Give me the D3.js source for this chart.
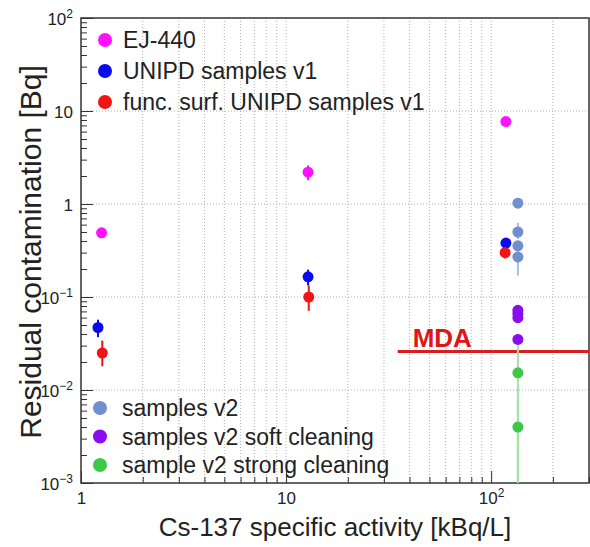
<!DOCTYPE html>
<html>
<head>
<meta charset="utf-8">
<script src="https://cdn.jsdelivr.net/npm/d3@7"></script>
<style>
  body { margin: 0; background: #fff; }
  svg { font-family: "Liberation Sans", Arial, Helvetica, sans-serif; }
</style>
</head>
<body>
<svg id="chart"></svg>
<script>
// ---- data ----
var ejX = [1.26, 12.8, 118];
var ejY = [0.49, 2.2, 7.7];
var ejLo = [0.45, 1.8, 7.2];
var ejHi = [0.53, 2.6, 8.2];

var unipdX = [1.21, 12.8, 118];
var unipdY = [0.047, 0.165, 0.38];
var unipdLo = [0.037, 0.133, 0.34];
var unipdHi = [0.057, 0.197, 0.42];

var funcX = [1.27, 12.9, 117];
var funcY = [0.025, 0.1, 0.3];
var funcLo = [0.018, 0.071, 0.26];
var funcHi = [0.034, 0.133, 0.34];

var v2X = [135, 135, 135, 135];
var v2Y = [1.02, 0.5, 0.355, 0.27];
var v2Lo = [0.95, 0.42, 0.33, 0.17];
var v2Hi = [1.1, 0.63, 0.38, 0.4];

var softX = [135, 135, 135, 135];
var softY = [0.072, 0.066, 0.06, 0.035];
var softLo = [0.066, 0.06, 0.055, 0.031];
var softHi = [0.078, 0.072, 0.066, 0.04];

var strongX = [135, 135];
var strongY = [0.0153, 0.004];
var strongLo = [0.0003, 0.0001];
var strongHi = [0.03, 0.008];

var mdaValue = 0.026;
var mdaStart = 35;

var xMajor = [1, 10, 100];
var yMajor = [100, 10, 1, 0.1, 0.01, 0.001];
var xLabels = ["1", "10", "10^2"];
var yLabels = ["10^2", "10", "1", "10^-1", "10^-2", "10^-3"];

var legendTop = ["EJ-440", "UNIPD samples v1", "func. surf. UNIPD samples v1"];
var legendBottom = ["samples v2", "samples v2 soft cleaning", "sample v2 strong cleaning"];

// ---- setup ----
var settings = { width: 590, height: 547 };
var margin = { left: 81, right: 1, top: 18, bottom: 64 };

var svg = d3.select("#chart")
    .attr("width", settings.width)
    .attr("height", settings.height);

var x = d3.scaleLog().domain([1, 300])
    .range([margin.left, settings.width - margin.right]);
var y = d3.scaleLog().domain([0.001, 100])
    .range([settings.height - margin.bottom, margin.top]);

var x0 = x.range()[0], x1 = x.range()[1];
var y0 = y.range()[0], y1 = y.range()[1];

// minor ticks
var xMinor = [];
[1, 10, 100].forEach(function (d) {
    for (var k = 2; k <= 9; k++) { if (d * k <= 300) xMinor.push(d * k); }
});
var yMinor = [];
[0.001, 0.01, 0.1, 1, 10].forEach(function (d) {
    for (var k = 2; k <= 9; k++) yMinor.push(d * k);
});

svg.append("defs").append("clipPath").attr("id", "plotclip")
    .append("rect").attr("x", x0).attr("y", y1).attr("width", x1 - x0).attr("height", y0 - y1);

// grid
var grid = svg.append("g").attr("class", "grid");
grid.selectAll("line.vg")
    .data(xMajor.concat(xMinor).filter(function (d) { return d > 1 && d < 300; }))
    .enter().append("line")
    .attr("x1", function (d) { return x(d); })
    .attr("x2", function (d) { return x(d); })
    .attr("y1", y1).attr("y2", y0)
    .attr("stroke", "#b0b0b0").attr("stroke-width", 1)
    .attr("stroke-dasharray", "1,2");
grid.selectAll("line.hg")
    .data(yMajor.filter(function (d) { return d > 0.001 && d < 100; }))
    .enter().append("line")
    .attr("x1", x0).attr("x2", x1)
    .attr("y1", function (d) { return y(d); })
    .attr("y2", function (d) { return y(d); })
    .attr("stroke", "#b0b0b0").attr("stroke-width", 1)
    .attr("stroke-dasharray", "1,2");

// axes (ROOT style: ticks inside)
var gx = svg.append("g").attr("transform", "translate(0," + y0 + ")");
gx.call(d3.axisTop(x).tickValues(xMinor).tickSize(6).tickFormat(""));
var gxM = svg.append("g").attr("transform", "translate(0," + y0 + ")");
gxM.call(d3.axisBottom(x).tickValues(xMajor).tickSize(0).tickPadding(9)
    .tickFormat(function (d, i) { return xLabels[i]; }));
gxM.selectAll(".tick").append("line")
    .attr("y2", -12).attr("stroke", "#333");

var gy = svg.append("g").attr("transform", "translate(" + x0 + ",0)");
gy.call(d3.axisRight(y).tickValues(yMinor).tickSize(6).tickFormat(""));
var gyM = svg.append("g").attr("transform", "translate(" + x0 + ",0)");
gyM.call(d3.axisLeft(y).tickValues(yMajor).tickSize(0).tickPadding(8)
    .tickFormat(function (d, i) { return yLabels[i]; }));
gyM.selectAll(".tick").append("line")
    .attr("x2", 12).attr("stroke", "#333");

[gx, gxM, gy, gyM].forEach(function (g) {
    g.select(".domain").remove();
    g.selectAll(".tick line").attr("stroke", "#333");
});

// superscript labels
function supLabel(sel) {
    sel.selectAll(".tick text").each(function () {
        var t = d3.select(this);
        var s = t.text();
        t.attr("font-size", 17).attr("fill", "#222")
            .attr("font-family", "'Liberation Sans', Arial, sans-serif");
        if (s.indexOf("^") >= 0) {
            var parts = s.split("^");
            t.text(null);
            t.append("tspan").text(parts[0]);
            t.append("tspan").text(parts[1].replace("-", "\u2212"))
                .attr("font-size", 12).attr("dy", "-0.6em");
        }
    });
}
supLabel(gxM);
supLabel(gyM);
gyM.selectAll(".tick text").attr("dy", "0.4em");

// frame
svg.append("rect")
    .attr("x", x0).attr("y", y1)
    .attr("width", x1 - x0).attr("height", y0 - y1)
    .attr("fill", "none").attr("stroke", "#333").attr("stroke-width", 1.5);

// axis titles
svg.append("text")
    .attr("x", 335).attr("y", 536)
    .attr("text-anchor", "middle").attr("font-size", 26).attr("fill", "#222")
    .text("Cs-137 specific activity [kBq/L]");
svg.append("text")
    .attr("transform", "translate(41,252) rotate(-90)")
    .attr("text-anchor", "middle").attr("font-size", 30).attr("fill", "#222")
    .text("Residual contamination [Bq]");

// MDA line
var plot = svg.append("g").attr("clip-path", "url(#plotclip)");
plot.append("line")
    .attr("x1", x(mdaStart)).attr("x2", x1)
    .attr("y1", y(mdaValue)).attr("y2", y(mdaValue))
    .attr("stroke", "#d81e1e").attr("stroke-width", 3);
svg.append("text")
    .attr("x", x(mdaStart) + 15).attr("y", y(mdaValue) - 4)
    .attr("font-size", 26).attr("font-weight", "bold").attr("fill", "#e01515")
    .text("MDA");

// series
function series(xs, ys, lo, hi, color, errColor) {
    var pts = xs.map(function (d, i) { return { x: d, y: ys[i], lo: lo[i], hi: hi[i] }; });
    plot.append("g").selectAll("line")
        .data(pts).enter().append("line")
        .attr("x1", function (d) { return x(d.x); })
        .attr("x2", function (d) { return x(d.x); })
        .attr("y1", function (d) { return y(d.lo); })
        .attr("y2", function (d) { return y(d.hi); })
        .attr("stroke", errColor || color).attr("stroke-width", 2);
    plot.append("g").selectAll("circle")
        .data(pts).enter().append("circle")
        .attr("cx", function (d) { return x(d.x); })
        .attr("cy", function (d) { return y(d.y); })
        .attr("r", 5.5)
        .attr("fill", color);
}
series(strongX, strongY, strongLo, strongHi, "#3ec84a", "#a2e2a2");
series(v2X, v2Y, v2Lo, v2Hi, "#6f8fcf", "#a8bde6");
series(softX, softY, softLo, softHi, "#8a0cf0");
series(ejX, ejY, ejLo, ejHi, "#ff10ff");
series(unipdX, unipdY, unipdLo, unipdHi, "#0a0af0");
series(funcX, funcY, funcLo, funcHi, "#f01414");

// legends
function legend(labels, colors, lx, ly, step, dxText) {
    var g = svg.append("g");
    var items = g.selectAll("g").data(labels).enter().append("g")
        .attr("transform", function (d, i) { return "translate(" + lx + "," + (ly + i * step) + ")"; });
    items.append("circle").attr("r", 7)
        .attr("fill", function (d, i) { return colors[i]; });
    items.append("text").attr("x", dxText).attr("dy", "0.36em")
        .attr("font-size", 23).attr("fill", "#222")
        .text(function (d) { return d; });
}
legend(legendTop, ["#ff10ff", "#0a0af0", "#f01414"], 105, 40, 31, 18);
legend(legendBottom, ["#6f8fcf", "#8a0cf0", "#3ec84a"], 100, 408, 28.5, 22);
</script>
</body>
</html>
